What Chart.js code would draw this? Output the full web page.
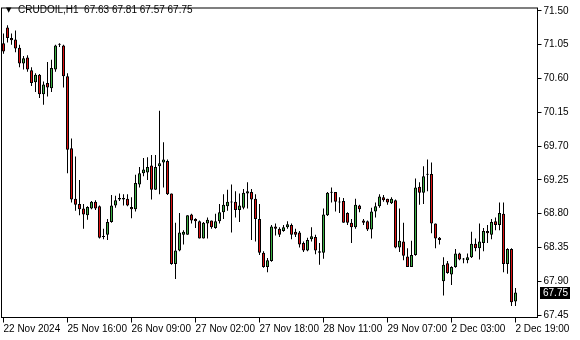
<!DOCTYPE html>
<html><head><meta charset="utf-8">
<script src="https://cdn.jsdelivr.net/npm/chart.js@4.4.1/dist/chart.umd.min.js"></script>
<style>html,body{margin:0;padding:0;background:#fff;}canvas{display:block;}</style>
</head><body>
<canvas id="c" width="580" height="340"></canvas>
<script>
const symbol = 'CRUDOIL,H1';
const opens = [71.07,71.28,71.14,71.12,71.01,70.80,70.88,70.71,70.55,70.65,70.39,70.54,70.47,70.72,71.05,71.04,70.63,69.67,69.00,68.93,68.87,68.78,68.87,68.96,68.90,68.50,68.52,
68.69,68.91,68.99,69.01,69.00,68.89,68.86,69.19,69.34,69.35,69.44,69.12,69.43,69.48,69.50,69.07,68.13,68.31,68.52,68.52,68.79,68.73,68.70,68.47,68.67,
68.71,68.61,68.70,68.82,68.90,68.96,68.96,68.85,68.88,69.07,69.09,69.00,68.73,68.28,68.09,68.17,68.63,68.60,68.57,68.62,68.65,68.56,68.55,68.41,68.31,
68.46,68.49,68.30,68.28,68.78,69.08,69.09,68.96,68.97,68.81,68.68,68.62,68.91,68.71,68.70,68.59,68.83,68.90,69.02,69.00,68.94,68.98,68.35,68.43,
68.23,68.09,68.25,69.16,69.08,69.32,69.33,68.67,68.48,67.90,68.14,67.99,68.09,68.27,68.19,68.18,68.22,68.40,68.34,68.41,68.57,68.52,68.70,68.65,68.80,68.13,68.33,67.63];
const highs = [71.20,71.31,71.20,71.24,71.05,70.90,70.91,70.75,70.67,70.66,70.56,70.82,70.85,71.05,71.07,71.05,70.67,69.80,69.56,69.25,68.93,68.90,68.97,68.98,68.91,68.60,68.73,
69.05,69.04,69.07,69.06,69.06,69.02,69.32,69.42,69.54,69.55,69.58,69.58,70.17,69.75,69.52,69.07,68.68,68.81,68.58,68.78,68.80,68.74,68.71,68.69,68.75,
68.71,68.80,68.93,69.06,69.12,69.19,69.10,69.07,69.13,69.22,69.13,69.06,68.93,68.30,68.21,68.65,68.67,68.62,68.65,68.70,68.67,68.60,68.57,68.43,68.48,
68.62,68.52,68.41,68.87,69.09,69.15,69.09,69.02,69.01,68.82,68.73,69.00,68.92,68.73,68.71,68.88,68.95,69.06,69.05,69.00,69.02,68.99,68.87,68.68,
68.34,68.44,69.27,69.22,69.43,69.52,69.48,68.67,68.49,68.22,68.17,68.10,68.33,68.28,68.21,68.27,68.56,68.47,68.67,68.61,68.65,68.73,68.75,68.95,68.95,68.34,68.34,67.81];
const lows = [70.93,71.08,71.05,70.95,70.75,70.72,70.69,70.50,70.42,70.34,70.25,70.36,70.42,70.69,71.02,70.48,69.34,68.95,68.84,68.78,68.60,68.72,68.86,68.85,68.47,68.46,68.45,
68.68,68.88,68.97,68.91,68.90,68.74,68.83,69.15,69.30,69.25,68.99,69.12,69.06,69.15,69.05,68.12,67.93,68.30,68.39,68.52,68.67,68.61,68.47,68.47,68.47,
68.60,68.60,68.67,68.73,68.84,68.55,68.75,68.69,68.86,68.87,68.45,68.43,68.25,68.08,68.02,68.16,68.51,68.49,68.56,68.60,68.46,68.49,68.35,68.29,68.30,
68.43,68.26,68.12,68.20,68.77,68.95,68.83,68.81,68.68,68.65,68.41,68.60,68.82,68.65,68.57,68.47,68.75,68.88,68.96,68.92,68.93,68.34,68.29,68.18,
68.09,68.09,68.24,68.92,68.93,69.10,68.54,68.34,68.39,67.71,68.00,67.85,68.08,68.18,68.14,68.14,68.21,68.30,68.19,68.30,68.41,68.46,68.58,68.58,68.02,68.00,67.57,67.57];
const closes = [70.96,71.14,71.11,71.00,70.80,70.87,70.72,70.54,70.65,70.39,70.52,70.48,70.74,71.04,71.05,70.63,69.65,68.99,68.92,68.86,68.79,68.89,68.96,68.87,68.48,68.49,68.69,
68.91,68.98,69.01,68.99,68.91,68.86,69.21,69.34,69.39,69.42,69.12,69.42,69.47,69.52,69.06,68.13,68.31,68.55,68.56,68.78,68.71,68.70,68.47,68.68,68.72,
68.62,68.70,68.82,68.92,68.96,68.95,68.85,68.91,69.08,69.10,68.99,68.73,68.28,68.09,68.18,68.63,68.60,68.52,68.62,68.66,68.52,68.52,68.39,68.31,68.45,
68.50,68.31,68.28,68.79,69.08,69.08,68.96,68.95,68.68,68.68,68.62,68.92,68.86,68.68,68.59,68.83,68.90,69.03,68.98,68.95,69.00,68.35,68.44,68.24,
68.09,68.25,69.15,69.08,69.30,69.32,68.67,68.47,68.45,68.12,68.01,68.09,68.27,68.19,68.19,68.22,68.40,68.34,68.43,68.57,68.54,68.69,68.65,68.81,68.13,68.33,67.62,67.75];
const tickIndex = [0,16,32,48,64,80,96,112,128];
const tickLabels = ['22 Nov 2024','25 Nov 16:00','26 Nov 09:00','27 Nov 02:00','27 Nov 18:00','28 Nov 11:00','29 Nov 07:00','2 Dec 03:00','2 Dec 19:00'];
const yTickValues = [71.50,71.05,70.60,70.15,69.70,69.25,68.80,68.35,67.90,67.45];
const slotCount = 134;
const categories = Array.from({length: slotCount}, (_, i) => i);

const bullColor = '#3cb043', bearColor = '#dd1111';
const bodies = opens.map((o, i) => [o, closes[i]]);
const wicks = lows.map((l, i) => [l, highs[i]]);
const bodyColors = opens.map((o, i) => closes[i] >= o ? bullColor : bearColor);
const last = closes.length - 1;
const FONT = '"Liberation Sans", Arial, sans-serif';

const overlay = {
  id: 'overlay',
  beforeDraw(chart) {
    const ctx = chart.ctx;
    ctx.save(); ctx.fillStyle = '#fff'; ctx.fillRect(0, 0, chart.width, chart.height); ctx.restore();
  },
  afterDraw(chart) {
    const {ctx, chartArea: a} = chart;
    const yS = chart.scales.y;
    ctx.save();
    ctx.strokeStyle = '#000'; ctx.lineWidth = 1;
    ctx.strokeRect(a.left, a.top, a.right - a.left, a.bottom - a.top);
    ctx.fillStyle = '#000';
    ctx.textBaseline = 'middle';
    ctx.font = '7px "DejaVu Sans"';
    ctx.fillText('▼', 6, 10);
    ctx.font = '10px ' + FONT;
    const ohlc = [opens[last], highs[last], lows[last], closes[last]].map(v => v.toFixed(2)).join(' ');
    ctx.fillText(symbol + '  ' + ohlc, 18, 10.5);
    const py = Math.round(yS.getPixelForValue(closes[last]));
    ctx.fillRect(540, py - 6, 30, 12);
    ctx.fillStyle = '#fff';
    ctx.fillText(closes[last].toFixed(2), 543, py + 0.5);
    ctx.restore();
  }
};

new Chart(document.getElementById('c'), {
  type: 'bar',
  data: {
    labels: categories,
    datasets: [
      { data: bodies, backgroundColor: bodyColors, borderColor: '#000', borderWidth: 1,
        borderSkipped: false, inflateAmount: 0, barThickness: 3, minBarLength: 1, grouped: false },
      { data: wicks, backgroundColor: '#000', borderWidth: 0, inflateAmount: 0,
        barThickness: 1, grouped: false }
    ]
  },
  options: {
    responsive: false, animation: false, devicePixelRatio: 1,
    layout: { padding: { left: 1.5, top: 1.5, right: 0, bottom: 0 } },
    plugins: { legend: { display: false }, tooltip: { enabled: false } },
    scales: {
      x: {
        type: 'category', offset: true,
        grid: { display: true, drawOnChartArea: false, drawTicks: true, tickLength: 5, color: '#000', offset: false },
        border: { display: true, color: '#000' },
        afterBuildTicks: s => { s.ticks = tickIndex.map(v => ({ value: v })); },
        afterFit: s => { s.height = 22.5; },
        ticks: { autoSkip: false, maxRotation: 0, minRotation: 0, align: 'start', padding: 1,
          color: '#000', font: { family: FONT, size: 10 },
          callback: v => tickLabels[tickIndex.indexOf(v)] }
      },
      y: {
        position: 'right', min: 67.4175, max: 71.539,
        grid: { display: true, drawOnChartArea: false, drawTicks: true, tickLength: 4, color: '#000' },
        border: { display: true, color: '#000' },
        afterBuildTicks: s => { s.ticks = yTickValues.map(v => ({ value: v })); },
        afterFit: s => { s.width = 42.5; },
        ticks: { padding: 2, color: '#000', font: { family: FONT, size: 10 },
          callback: v => Number(v).toFixed(2) }
      }
    }
  },
  plugins: [overlay]
});
</script>
</body></html>
